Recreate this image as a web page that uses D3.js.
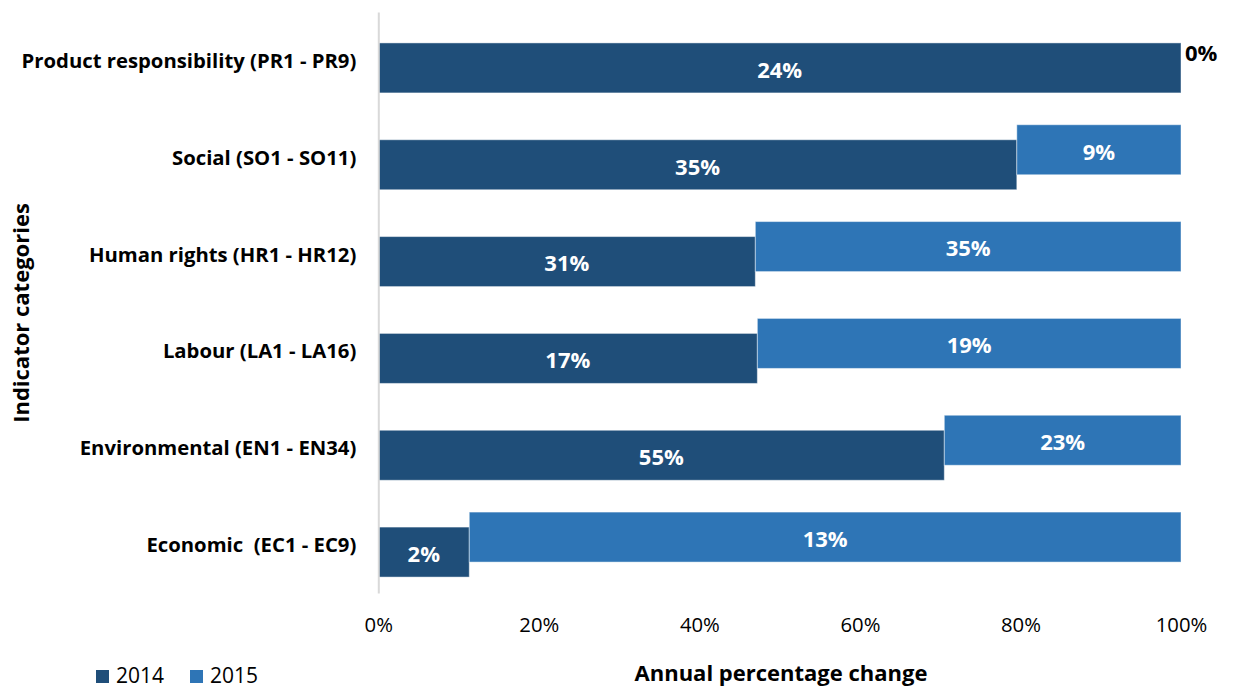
<!DOCTYPE html>
<html><head><meta charset="utf-8">
<script src="https://cdn.jsdelivr.net/npm/d3@7/dist/d3.min.js"></script>
<style>
body{margin:0;background:#fff;}
text{font-family:"Open Sans",sans-serif;white-space:pre;}
</style></head>
<body><svg id="chart" width="1237" height="688"></svg>
<script>
const categories = ["Product responsibility (PR1 - PR9)","Social (SO1 - SO11)","Human rights (HR1 - HR12)","Labour (LA1 - LA16)","Environmental (EN1 - EN34)","Economic  (EC1 - EC9)"];
const values2014 = [24, 35, 31, 17, 55, 1.7];
const values2015 = [0, 9, 35, 19, 23, 13.3];
const seriesNames = ["2014","2015"];
const xTicks = [0, 0.2, 0.4, 0.6, 0.8, 1];

const colors = {"2014":"#1F4E79","2015":"#2E75B6"};
const FONT = "'Open Sans', sans-serif";
const svg = d3.select("#chart");
const x = d3.scaleLinear().domain([0,1]).range([378.3,1181]);
const y = d3.scaleBand().domain(categories).range([12,593]);
const barH = 50, off = 7.5;

const rows = categories.map((c,i)=>{
  const tot = values2014[i]+values2015[i];
  return {c, v14: values2014[i], v15: values2015[i], s14: values2014[i]/tot, s15: values2015[i]/tot};
});
const fmt = v => Math.round(v) + "%";

const g = svg.append("g");
rows.forEach(r=>{
  const cy = y(r.c) + y.bandwidth()/2;
  g.append("rect").attr("x", x(0)).attr("y", cy - barH/2 + off)
    .attr("width", x(r.s14)-x(0)).attr("height", barH)
    .attr("fill", colors["2014"]).attr("stroke","rgba(255,255,255,0.45)").attr("stroke-width",1);
  if (r.s15 > 0) {
    g.append("rect").attr("x", x(r.s14)).attr("y", cy - barH/2 - off)
      .attr("width", x(1)-x(r.s14)).attr("height", barH)
      .attr("fill", colors["2015"]).attr("stroke","rgba(255,255,255,0.45)").attr("stroke-width",1);
  }
});
rows.forEach(r=>{
  const cy = y(r.c) + y.bandwidth()/2;
  g.append("text").attr("x", (x(0)+x(r.s14))/2).attr("y", cy + off)
    .attr("dy","0.45em").attr("text-anchor","middle").attr("fill","#fff")
    .attr("font-weight","bold").attr("font-size","22px").text(fmt(r.v14));
  if (r.s15 > 0) {
    g.append("text").attr("x", (x(r.s14)+x(1))/2).attr("y", cy - off)
      .attr("dy","0.45em").attr("text-anchor","middle").attr("fill","#fff")
      .attr("font-weight","bold").attr("font-size","22px").text(fmt(r.v15));
  } else {
    g.append("text").attr("x", x(1)+4).attr("y", cy - off)
      .attr("dy","0.36em").attr("text-anchor","start").attr("fill","#000")
      .attr("font-weight","bold").attr("font-size","22px").text(fmt(r.v15));
  }
});

const yAxis = svg.append("g").attr("transform","translate(378.3,0)")
  .call(d3.axisLeft(y).tickSize(0).tickPadding(22));
yAxis.select(".domain").attr("stroke","#d9d9d9").attr("stroke-width",2);
yAxis.selectAll("text").attr("font-family",FONT).attr("font-size","20.3px")
  .attr("font-weight","bold").attr("fill","#000").attr("dy","0.37em");

const xAxis = svg.append("g").attr("transform","translate(0,593)")
  .call(d3.axisBottom(x).tickValues(xTicks).tickFormat(d3.format(".0%")).tickSize(0).tickPadding(24.6));
xAxis.select(".domain").remove();
xAxis.selectAll("text").attr("font-family",FONT).attr("font-size","20.3px").attr("fill","#000");

svg.append("text").attr("transform","translate(29,313) rotate(-90)")
  .attr("text-anchor","middle").attr("font-weight","bold").attr("font-size","22px").attr("fill","#000")
  .text("Indicator categories");
svg.append("text").attr("x",781).attr("y",681).attr("text-anchor","middle")
  .attr("font-weight","bold").attr("font-size","22px").attr("fill","#000")
  .text("Annual percentage change");

const leg = svg.append("g");
seriesNames.forEach((s,i)=>{
  const lx = 96 + i*94;
  leg.append("rect").attr("x",lx).attr("y",670).attr("width",13).attr("height",13).attr("fill",colors[s]);
  leg.append("text").attr("x",lx+20).attr("y",683).attr("font-size","21px").attr("fill","#000").text(s);
});
</script></body></html>
